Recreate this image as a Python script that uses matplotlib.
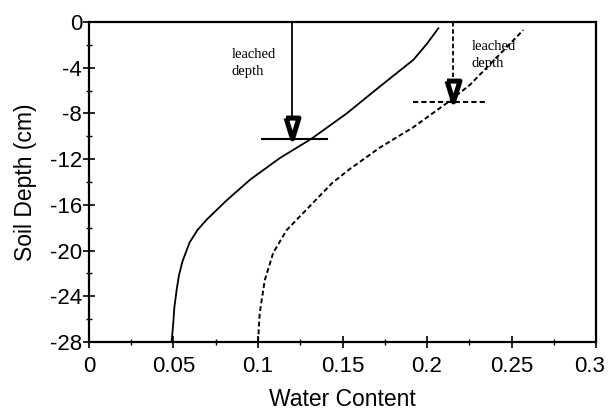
import numpy as np
import matplotlib
matplotlib.use("Agg")
import matplotlib.pyplot as plt
import matplotlib.transforms as mtransforms
from matplotlib.ticker import MultipleLocator

# curves (water content, depth in cm)
solid_wc = [0.0489, 0.0500, 0.0505, 0.0519, 0.0532, 0.0552, 0.0595, 0.0642,
            0.0696, 0.0815, 0.0953, 0.1130, 0.1318, 0.1525, 0.1720, 0.1920,
            0.2000, 0.2067]
solid_depth = [-28.0, -26.1, -25.0, -23.4, -22.2, -21.0, -19.3, -18.2,
               -17.3, -15.6, -13.8, -11.9, -10.2, -8.0, -5.66, -3.3,
               -1.9, -0.55]

dashed_wc = [0.1000, 0.1010, 0.1040, 0.1090, 0.1170, 0.1288, 0.1438, 0.1540,
             0.1720, 0.1920, 0.2117, 0.2254, 0.2570]
dashed_depth = [-28.0, -25.5, -22.6, -20.2, -18.2, -16.4, -14.1, -12.9,
                -11.0, -9.2, -7.1, -5.5, -0.7]

# leached depth markers: arrow x, depth, horizontal bar extent, label position
leach_x = [0.120, 0.2156]
leach_depth = [-10.24, -6.97]
bar_left = [0.1022, 0.1919]
bar_right = [0.1406, 0.2343]
label_x = [0.0843, 0.2264]
label_y = [-2.3, -1.6]
styles = ['-', (0, (2.5, 1.5))]

xticks = [0, 0.05, 0.1, 0.15, 0.2, 0.25, 0.3]
xticklabels = ['0', '0.05', '0.1', '0.15', '0.2', '0.25', '0.3']
yticks = [0, -4, -8, -12, -16, -20, -24, -28]

plt.rcParams['font.family'] = ['Liberation Sans', 'DejaVu Sans']
plt.rcParams['axes.unicode_minus'] = False

fig = plt.figure(figsize=(6.09, 4.11), dpi=100)
ax = fig.add_axes([0.1461, 0.1679, 0.8326, 0.7786])

ax.plot(solid_wc, solid_depth, color='black', lw=1.3)
ax.plot(dashed_wc, dashed_depth, color='black', lw=1.4, ls=(0, (2.5, 1.5)))

tri = [(-0.62, 1.0), (0.62, 1.0), (0.0, -1.0), (-0.62, 1.0)]
for x, d, l, r, tx, ty, ls in zip(leach_x, leach_depth, bar_left, bar_right,
                                   label_x, label_y, styles):
    ax.plot([l, r], [d, d], color='black', lw=1.5, ls=ls)
    ax.plot([x, x], [0, d + 1.8], color='black', lw=1.3, ls=ls)
    ax.plot(x, d + 0.95, marker=tri, ms=15, mfc='white', mec='black',
            mew=3.6, ls='none')
    ax.text(tx, ty, 'leached\ndepth', fontsize=10.5, family='Liberation Serif',
            va='top', ha='left', linespacing=1.35)

ax.set_xlim(0, 0.3)
ax.set_ylim(-28, 0)
ax.set_xticks(xticks)
ax.set_xticklabels(xticklabels)
ax.set_yticks(yticks)
ax.xaxis.set_minor_locator(MultipleLocator(0.025))
ax.yaxis.set_minor_locator(MultipleLocator(2))
ax.tick_params(which='major', direction='inout', length=8, width=1.2,
               labelsize=16, pad=6)
ax.tick_params(which='minor', direction='inout', length=5, width=1)
ax.tick_params(axis='y', which='major', pad=1)
for s in ax.spines.values():
    s.set_linewidth(1.6)

ax.set_xlabel('Water Content', fontsize=16.5, labelpad=8)
ax.set_ylabel('Soil Depth (cm)', fontsize=16.5, labelpad=9)

# last x label sits a little inside the right edge, as in the scan
last = ax.get_xticklabels()[-1]
last.set_transform(last.get_transform() +
                   mtransforms.ScaledTranslation(-6 / 100, 0, fig.dpi_scale_trans))

fig.savefig('out.png', dpi=100)
